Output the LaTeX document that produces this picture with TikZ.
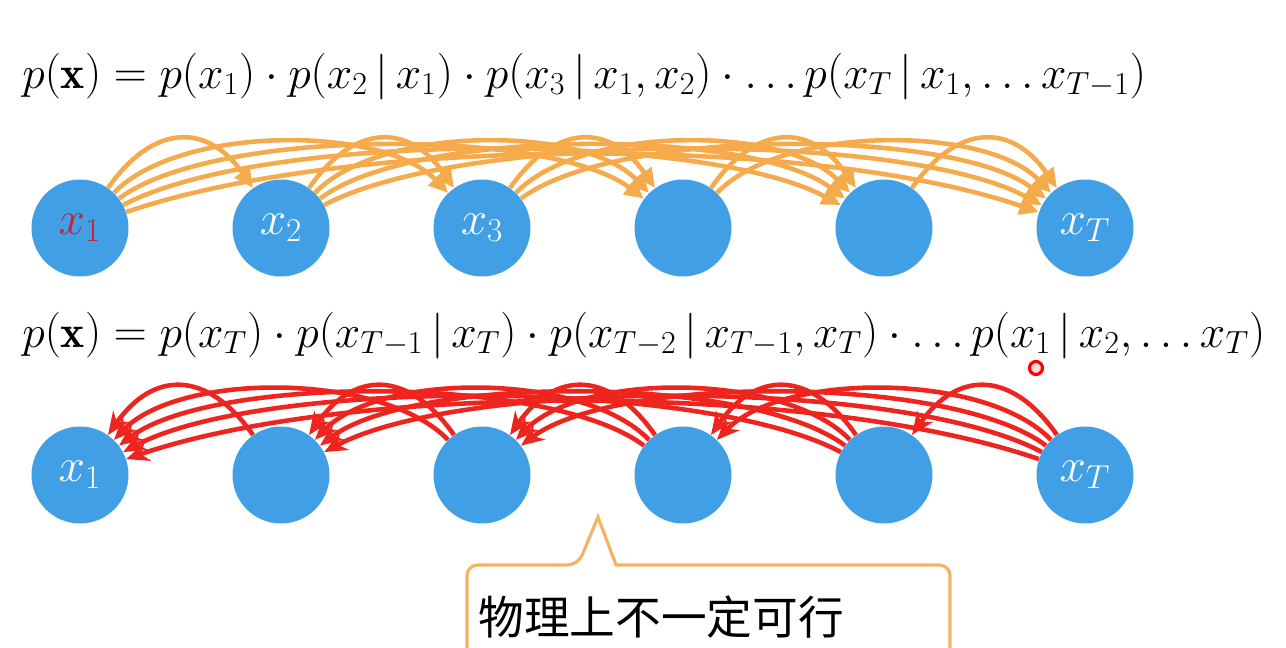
\RequirePackage{fix-cm}
\documentclass[tikz,border=0pt]{standalone}
\usepackage{fontspec}
\newfontfamily\cjkfont{Noto Sans CJK SC}
\usetikzlibrary{arrows.meta}

\definecolor{ballblue}{RGB}{65,159,230}
\definecolor{arcorange}{RGB}{245,170,75}
\definecolor{arcred}{RGB}{238,36,30}
\definecolor{inkred}{RGB}{205,30,50}
\definecolor{noteorange}{RGB}{243,178,100}

\begin{document}
\begin{tikzpicture}[
    x=0.02cm, y=0.02cm,
    % Node styles
    ball/.style={
        circle,
        fill=ballblue,
        minimum size=1.94cm,
        inner sep=0pt,
        text=white,
        font=\fontsize{27}{30}\selectfont
    },
    formula/.style={
        anchor=base west,
        inner sep=0pt,
        font=\fontsize{26}{30}\selectfont
    },
    fwd/.style={
        -{Triangle[length=11pt, width=10pt]},
        line width=2.6pt,
        draw=arcorange
    },
    bwd/.style={
        {Stealth[length=13pt, width=11pt]}-,
        line width=2.6pt,
        draw=arcred
    },
    notebox/.style={
        draw=noteorange,
        line width=1.8pt
    },
    notetext/.style={
        anchor=west,
        inner sep=0pt,
        font=\cjkfont\fontsize{26}{30}\selectfont
    }
]

\useasboundingbox (0,0) rectangle (1286,647);
\clip (0,0) rectangle (1286,647);

% Define positions
\def\xsep{201}

% Factorisations
\node[formula] (fwdeq) at (22,559) {$p\bigl(\mathbf{x}\bigr) = p\bigl(x_1\bigr)\cdot p\bigl(x_2 \,\big|\, x_1\bigr)\cdot p\bigl(x_3 \,\big|\, x_1, x_2\bigr)\cdot \ldots p\bigl(x_T \,\big|\, x_1, \ldots x_{T-1}\bigr)$};
\node[formula] (bwdeq) at (22,300) {$p\bigl(\mathbf{x}\bigr) = p\bigl(x_T\bigr)\cdot p\bigl(x_{T-1} \,\big|\, x_T\bigr)\cdot p\bigl(x_{T-2} \,\big|\, x_{T-1}, x_T\bigr)\cdot \ldots p\bigl(x_1 \,\big|\, x_2, \ldots x_T\bigr)$};

% Two rows of variables
\foreach \i/\top/\bot in {1/{\textcolor{inkred}{$x_1$}}/{$x_1$}, 2/{$x_2$}/{}, 3/{$x_3$}/{}, 4/{}/{}, 5/{}/{}, 6/{$x_T$}/{$x_T$}} {
    \node[ball] (t\i) at ({80+\xsep*(\i-1)}, 419) {\top};
    \node[ball] (b\i) at ({80+\xsep*(\i-1)}, 172) {\bot};
}

% Arcs: forward (orange) and backward (red)
\foreach \i in {1,...,5} {
    \pgfmathtruncatemacro\first{\i+1}
    \foreach \j in {\first,...,6} {
        \pgfmathsetmacro\sa{64-9*(\j-\i)}
        \pgfmathsetmacro\ea{180-\sa}
        \pgfmathsetmacro\c{(62+3*(\j-\i))/sin(\sa)}
        \draw[fwd] (t\i.\sa) .. controls +(\sa:\c) and +(\ea:\c) .. (t\j.\ea);
        \draw[bwd] (b\i.\sa) .. controls +(\sa:\c) and +(\ea:\c) .. (b\j.\ea);
    }
}

% Pointer mark
\node[circle, draw=red, fill=red!15, line width=1.8pt, minimum size=0.26cm, inner sep=0pt] (cursor) at (1036,279) {};

% Callout
\draw[notebox] (467,-10) [rounded corners=6pt]-- (467,82) -- (578,82) [sharp corners]-- (598,130) -- (616,82) [rounded corners=6pt]-- (950,82) -- (950,-10);
\node[notetext] (hint) at (478,30) {物理上不一定可行};

\end{tikzpicture}
\end{document}
